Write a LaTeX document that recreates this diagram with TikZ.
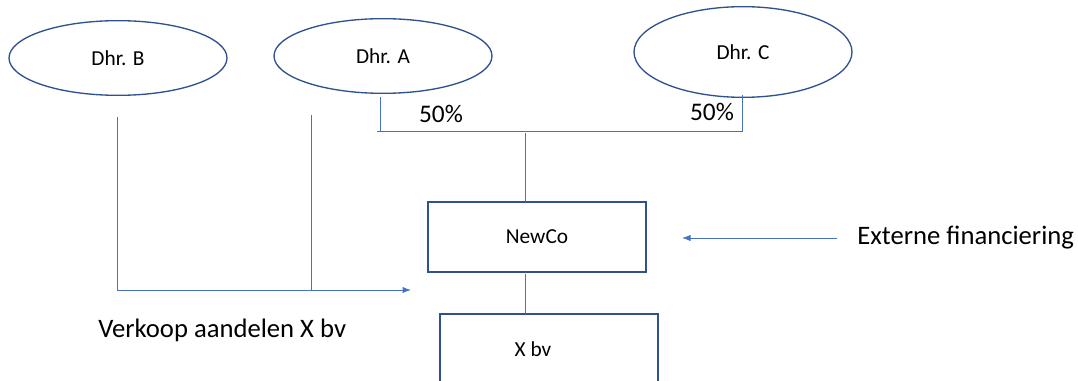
\documentclass[tikz,border=0pt]{standalone}
\usepackage{fontspec}
\setmainfont{Carlito}
\usetikzlibrary{arrows.meta,positioning,shapes.geometric}
\definecolor{randblauw}{RGB}{47,82,143}
\definecolor{lijnblauw}{RGB}{68,114,196}

\begin{document}
\begin{tikzpicture}[x=0.75pt,y=-0.75pt,>=Latex,font=\fontsize{16}{19}\selectfont]
        \useasboundingbox (0,0) rectangle (1078,381);
        \tikzset{
          persoon/.style={draw=randblauw,ellipse,line width=1pt,inner sep=0pt,outer sep=0pt,minimum width=163.5pt,minimum height=56pt},
          bedrijf/.style={draw=randblauw,rectangle,line width=1pt,inner sep=0pt,outer sep=0pt,minimum width=163.5pt,minimum height=52.5pt},
          lijn/.style={draw=lijnblauw,line width=0.75pt},
          tekst/.style={font=\fontsize{19}{23}\selectfont,inner sep=0pt},
          grotetekst/.style={tekst,font=\fontsize{20}{24}\selectfont}
        }
        % aandeelhouders
        \node[persoon] (dhrb) at (118,58) {Dhr. B};
        \node[persoon] (dhra) at (383,56) {Dhr. A};
        \node[persoon,minimum height=68pt] (dhrc) at (743,52) {Dhr. C};
        % vennootschappen
        \node[bedrijf] (newco) at (537,237) {NewCo};
        \node[bedrijf] (xbv) at (549,349) {X bv\hspace*{24pt}};
        % losse teksten
        \node[tekst] (pa) at (441,114) {50\%};
        \node[tekst] (pc) at (712,112) {50\%};
        \node[grotetekst,anchor=west] (fin) at (857,238) {Externe financiering};
        \node[grotetekst,anchor=west] (verkoop) at (98,330) {Verkoop aandelen X bv};
        % hulppunten
        \coordinate (bboven) at (117,117);
        \coordinate (bonder) at (117,290);
        \coordinate (aboven) at (311,115);
        \coordinate (aonder) at (311,290);
        \coordinate (pijlpunt) at (411,290);
        \coordinate (alinks) at (380,97);
        \coordinate (hlinks) at (377,132);
        \coordinate (crechts) at (742,95);
        \coordinate (hrechts) at (742,132);
        \coordinate (hmidden) at (525,133);
        \coordinate (finstart) at (837,238);
        \coordinate (finpunt) at (682,238);
        % verkoop van de aandelen
        \draw[lijn] (bboven)--(bonder);
        \draw[lijn] (aboven)--(aonder);
        \draw[lijn,->] (bonder)--(pijlpunt);
        % belangen van 50%
        \draw[lijn] (alinks)--(alinks|-hlinks);
        \draw[lijn] (hlinks)--(hrechts);
        \draw[lijn] (crechts)--(hrechts);
        \draw[lijn] (hmidden)--(hmidden|-newco.north);
        \draw[lijn] ([yshift=-1.5pt]newco.south-|hmidden)--(hmidden|-xbv.north);
        % financiering
        \draw[lijn,->] (finstart)--(finpunt);
      \end{tikzpicture}
\end{document}
